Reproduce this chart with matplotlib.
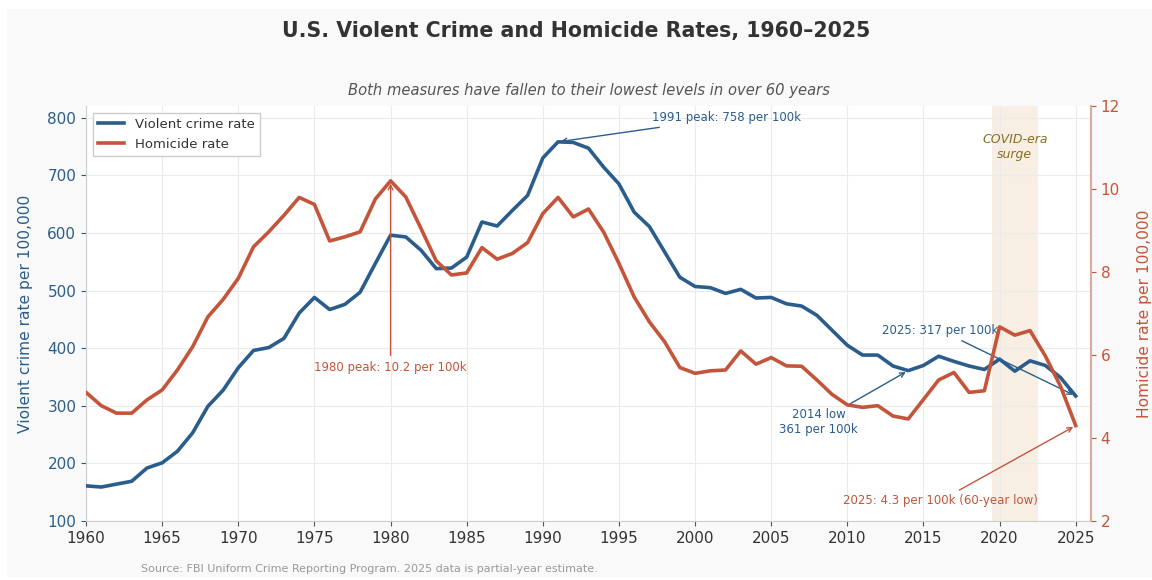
import matplotlib
matplotlib.use('Agg')
import matplotlib.pyplot as plt
import matplotlib.transforms as mtransforms
from matplotlib.patches import Rectangle

# Data
years = list(range(1960, 2026))
violent = [161, 159, 164, 169, 192, 201, 221, 253, 299, 327,
           366, 396, 401, 417, 461, 488, 467, 476, 497, 547,
           596, 593, 570, 538, 539, 558, 619, 612, 639, 665,
           730, 758, 757, 747, 714, 685, 636, 611, 567, 523,
           507, 505, 495, 502, 487, 488, 477, 473, 457, 431,
           405, 388, 388, 369, 361, 370, 386, 377, 369, 363,
           381, 360, 378, 370, 349, 317]
homicide = [5.10, 4.78, 4.60, 4.60, 4.92, 5.16, 5.64, 6.20, 6.92, 7.34,
            7.85, 8.61, 8.97, 9.37, 9.80, 9.63, 8.75, 8.85, 8.97, 9.76,
            10.2, 9.81, 9.05, 8.27, 7.93, 7.98, 8.59, 8.31, 8.45, 8.71,
            9.41, 9.80, 9.33, 9.52, 8.96, 8.21, 7.40, 6.80, 6.32, 5.70,
            5.56, 5.62, 5.64, 6.10, 5.78, 5.94, 5.74, 5.73, 5.40, 5.05,
            4.80, 4.74, 4.78, 4.53, 4.46, 4.93, 5.40, 5.58, 5.10, 5.14,
            6.68, 6.48, 6.59, 5.98, 5.25, 4.30]
x_ticks = list(range(1960, 2026, 5))
covid_span = (2019.5, 2022.5)

blue = '#2b5d8c'
red = '#c4553a'

fig = plt.figure(figsize=(11.52, 5.8), dpi=100, facecolor='white')
fig.patches.append(Rectangle((7 / 1152, 2 / 580), 1 - 7 / 1152, 569 / 580,
                             transform=fig.transFigure, facecolor='#f9f9f9',
                             edgecolor='none', zorder=-10))

ax = fig.add_axes([0.0747, 0.1017, 0.8723, 0.7153])
ax.set_facecolor('white')
ax2 = ax.twinx()

ax.axvspan(*covid_span, color='#deb887', alpha=0.22, lw=0, zorder=0)

l1, = ax.plot(years, violent, color=blue, lw=2.6, label='Violent crime rate', zorder=3)
l2, = ax2.plot(years, homicide, color=red, lw=2.6, label='Homicide rate', zorder=3)

ax.set_xlim(1960, 2026)
ax.set_ylim(100, 820)
ax2.set_ylim(2, 12)
ax.set_xticks(x_ticks)
ax.set_yticks(range(100, 801, 100))
ax2.set_yticks([2, 4, 6, 8, 10, 12])

ax.grid(True, color='#ebebeb', lw=0.8)
ax.set_axisbelow(True)

ax.spines['top'].set_visible(False)
ax2.spines['top'].set_visible(False)
ax.spines['left'].set_color('#cccccc')
ax.spines['bottom'].set_color('#cccccc')
ax.spines['right'].set_visible(False)
ax2.spines['left'].set_visible(False)
ax2.spines['bottom'].set_visible(False)
ax2.spines['right'].set_color('#d9aaa0')
ax2.spines['right'].set_linewidth(1.5)

ax.tick_params(axis='x', labelsize=11, labelcolor='#333333', color='#555555')
ax.tick_params(axis='y', labelsize=11, labelcolor=blue, color=blue)
ax2.tick_params(axis='y', labelsize=11, labelcolor=red, color=red)

ax.set_ylabel('Violent crime rate per 100,000', color=blue, fontsize=11.2, labelpad=10)
ax2.set_ylabel('Homicide rate per 100,000', color=red, fontsize=11.2, labelpad=12)

leg = ax.legend(handles=[l1, l2], loc='upper left', fontsize=9.5, frameon=True,
                edgecolor='#cccccc', fancybox=False, framealpha=1)
for t in leg.get_texts():
    t.set_color('#333333')

fig.suptitle('U.S. Violent Crime and Homicide Rates, 1960–2025', fontsize=14.8,
             fontweight='bold', color='#333333', y=0.963)
ax.set_title('Both measures have fallen to their lowest levels in over 60 years',
             fontsize=10.6, style='italic', color='#555555', pad=8)

# Annotations
ax.annotate('1991 peak: 758 per 100k', xy=(1991, 758), xytext=(1997.2, 800),
            fontsize=8.5, color=blue, ha='left', va='center',
            arrowprops=dict(arrowstyle='->', color=blue, lw=1))
ax2.annotate('1980 peak: 10.2 per 100k', xy=(1980, 10.2), xytext=(1980, 5.7),
             fontsize=8.5, color=red, ha='center', va='center',
             arrowprops=dict(arrowstyle='->', color=red, lw=1))
ax.annotate('2014 low\n361 per 100k', xy=(2014, 361), xytext=(2008.1, 272),
            fontsize=8.5, color=blue, ha='center', va='center',
            arrowprops=dict(arrowstyle='->', color=blue, lw=1))
ax.annotate('2025: 317 per 100k', xy=(2025, 317), xytext=(2016.1, 431),
            fontsize=8.5, color=blue, ha='center', va='center',
            arrowprops=dict(arrowstyle='->', color=blue, lw=1))
ax2.annotate('2025: 4.3 per 100k (60-year low)', xy=(2025, 4.3), xytext=(2016.1, 2.49),
             fontsize=8.5, color=red, ha='center', va='center',
             arrowprops=dict(arrowstyle='->', color=red, lw=1))

trans = mtransforms.blended_transform_factory(ax.transData, ax.transAxes)
ax.text(sum(covid_span) / 2, 0.902, 'COVID-era\nsurge', transform=trans,
        ha='center', va='center', fontsize=9, style='italic', color='#8a6d1f')

fig.text(0.122, 0.019, 'Source: FBI Uniform Crime Reporting Program. 2025 data is partial-year estimate.',
         fontsize=8, color='#999999', ha='left', va='center')

fig.savefig('out.png', dpi=100)
